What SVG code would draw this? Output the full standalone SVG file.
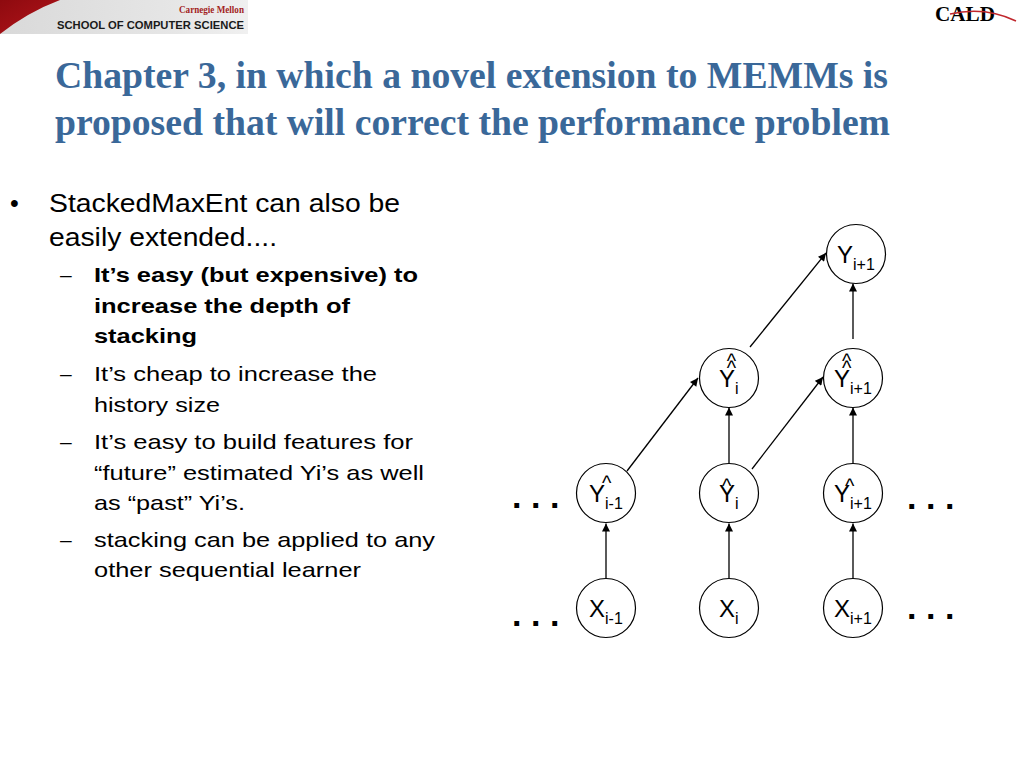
<svg xmlns="http://www.w3.org/2000/svg" width="1024" height="768" viewBox="0 0 1024 768">
  <defs>
    <linearGradient id="band" x1="0" y1="0" x2="1" y2="0">
      <stop offset="0" stop-color="#d9d9d9"/>
      <stop offset="0.7" stop-color="#e6e6e6"/>
      <stop offset="1" stop-color="#f0f0f0"/>
    </linearGradient>
    <linearGradient id="red" x1="0" y1="0" x2="1" y2="1">
      <stop offset="0" stop-color="#8e0a0f"/>
      <stop offset="1" stop-color="#b3151b"/>
    </linearGradient>
    <marker id="arr" viewBox="0 0 10 10" refX="10" refY="5" markerWidth="9" markerHeight="8" markerUnits="userSpaceOnUse" orient="auto">
      <path d="M0,0 L10,5 L0,10 Z" fill="#000"/>
    </marker>
    <style>
      .node circle { fill: #fff; stroke: #000; stroke-width: 1.2; }
      .lbl { font-family: "Liberation Sans", Arial, sans-serif; font-size: 24px; fill: #000; }
      .sub { font-size: 16px; }
      .hat { font-size: 20px; }
      .edge { stroke: #000; stroke-width: 1.3; fill: none; marker-end: url(#arr); }
      .title { font-family: "Liberation Serif", "Times New Roman", serif; font-size: 37px; font-weight: bold; fill: #3a6899; }
      .body { font-family: "Liberation Sans", Arial, sans-serif; fill: #000; }
      .l1 { font-size: 25px; }
      .l2 { font-size: 21px; }
      .dots { font-family: "Liberation Sans", Arial, sans-serif; font-size: 34px; font-weight: bold; fill: #000; letter-spacing: 9.5px; }
    </style>
  </defs>

  <rect x="0" y="0" width="1024" height="768" fill="#fff"/>

  <!-- Header left logo -->
  <g id="cmu-logo">
    <rect x="0" y="0" width="248" height="34" fill="url(#band)"/>
    <path d="M0,0 H60 Q28,12 0,34 Z" fill="url(#red)"/>
    <text x="244" y="12.5" text-anchor="end" font-family="Liberation Serif, serif" font-size="9.5" font-weight="bold" fill="#a31f24" textLength="65" lengthAdjust="spacingAndGlyphs">Carnegie Mellon</text>
    <text x="57" y="28.5" font-family="Liberation Sans, Arial, sans-serif" font-size="11" font-weight="bold" fill="#1a1a1a" textLength="187" lengthAdjust="spacingAndGlyphs">SCHOOL OF COMPUTER SCIENCE</text>
  </g>

  <!-- Header right logo -->
  <g id="cald-logo">
    <text x="935" y="21" font-family="Liberation Serif, serif" font-size="20" font-weight="bold" fill="#000" textLength="60" lengthAdjust="spacingAndGlyphs">CALD</text>
    <path d="M950,14 Q985,6 1016,21" stroke="#c0272d" stroke-width="1.4" fill="none"/>
  </g>

  <!-- Title -->
  <g id="title">
    <text class="title" x="55" y="88" textLength="833" lengthAdjust="spacingAndGlyphs">Chapter 3, in which a novel extension to MEMMs is</text>
    <text class="title" x="55" y="135" textLength="835" lengthAdjust="spacingAndGlyphs">proposed that will correct the performance problem</text>
  </g>

  <!-- Bullets -->
  <g id="bullets" class="body">
    <text class="l1" x="10" y="212">•</text>
    <text class="l1" x="49" y="212" textLength="351" lengthAdjust="spacingAndGlyphs">StackedMaxEnt can also be</text>
    <text class="l1" x="49" y="246" textLength="228" lengthAdjust="spacingAndGlyphs">easily extended....</text>

    <text class="l2" x="60" y="282">–</text>
    <text class="l2" x="94" y="282" font-weight="bold" textLength="324" lengthAdjust="spacingAndGlyphs">It’s easy (but expensive) to</text>
    <text class="l2" x="94" y="313" font-weight="bold" textLength="256" lengthAdjust="spacingAndGlyphs">increase the depth of</text>
    <text class="l2" x="94" y="343" font-weight="bold" textLength="103" lengthAdjust="spacingAndGlyphs">stacking</text>

    <text class="l2" x="60" y="381">–</text>
    <text class="l2" x="94" y="381" textLength="283" lengthAdjust="spacingAndGlyphs">It’s cheap to increase the</text>
    <text class="l2" x="94" y="412" textLength="126" lengthAdjust="spacingAndGlyphs">history size</text>

    <text class="l2" x="60" y="449">–</text>
    <text class="l2" x="94" y="449" textLength="319" lengthAdjust="spacingAndGlyphs">It’s easy to build features for</text>
    <text class="l2" x="94" y="480" textLength="330" lengthAdjust="spacingAndGlyphs">“future” estimated Yi’s as well</text>
    <text class="l2" x="94" y="510" textLength="151" lengthAdjust="spacingAndGlyphs">as “past” Yi’s.</text>

    <text class="l2" x="60" y="547">–</text>
    <text class="l2" x="94" y="547" textLength="341" lengthAdjust="spacingAndGlyphs">stacking can be applied to any</text>
    <text class="l2" x="94" y="577" textLength="267" lengthAdjust="spacingAndGlyphs">other sequential learner</text>
  </g>

  <!-- Connectors -->
  <g id="connectors">
    <line class="edge" x1="606" y1="578.5" x2="606" y2="523.5"/>
    <line class="edge" x1="729" y1="578.5" x2="729" y2="523.5"/>
    <line class="edge" x1="853" y1="578.5" x2="853" y2="523.5"/>
    <line class="edge" x1="729" y1="463.5" x2="729" y2="407.5"/>
    <line class="edge" x1="853" y1="463.5" x2="853" y2="407.5"/>
    <line class="edge" x1="853" y1="339" x2="853" y2="283.5"/>
    <line class="edge" x1="627" y1="471" x2="698" y2="378"/>
    <line class="edge" x1="752" y1="469" x2="823" y2="377"/>
    <line class="edge" x1="750" y1="347" x2="826" y2="253"/>
  </g>

  <!-- Nodes -->
  <g id="x-im1" class="node">
    <circle cx="606" cy="608" r="29.5"/>
    <text class="lbl" x="589" y="617">X<tspan class="sub" dy="7">i-1</tspan></text>
  </g>
  <g id="x-i" class="node">
    <circle cx="729" cy="608" r="29.5"/>
    <text class="lbl" x="719" y="617">X<tspan class="sub" dy="7">i</tspan></text>
  </g>
  <g id="x-ip1" class="node">
    <circle cx="853" cy="608" r="29.5"/>
    <text class="lbl" x="834" y="617">X<tspan class="sub" dy="7">i+1</tspan></text>
  </g>

  <g id="yhat-im1" class="node">
    <circle cx="606" cy="493" r="29.5"/>
    <text class="lbl" x="589" y="502">Y<tspan class="hat" dx="-3" dy="-12">^</tspan><tspan class="sub" dx="-6.4" dy="19">i-1</tspan></text>
  </g>
  <g id="yhat-i" class="node">
    <circle cx="729" cy="493" r="29.5"/>
    <text class="lbl" x="719" y="502">Y<tspan class="hat" dx="-13" dy="-9">^</tspan><tspan class="sub" dx="3.6" dy="16">i</tspan></text>
  </g>
  <g id="yhat-ip1" class="node">
    <circle cx="853" cy="493" r="29.5"/>
    <text class="lbl" x="834" y="502">Y<tspan class="hat" dx="-5" dy="-9">^</tspan><tspan class="sub" dx="-4.4" dy="16">i+1</tspan></text>
  </g>

  <g id="yhathat-i" class="node">
    <circle cx="729" cy="378" r="29.5"/>
    <text class="lbl" x="719" y="387">Y<tspan class="hat" dx="-8.2" dy="-19">^</tspan><tspan class="hat" dx="-9.4" dy="7">^</tspan><tspan class="sub" dx="-1.2" dy="19">i</tspan></text>
  </g>
  <g id="yhathat-ip1" class="node">
    <circle cx="853" cy="378" r="29.5"/>
    <text class="lbl" x="834" y="387">Y<tspan class="hat" dx="-8.1" dy="-19">^</tspan><tspan class="hat" dx="-9.4" dy="7">^</tspan><tspan class="sub" dx="-1.3" dy="19">i+1</tspan></text>
  </g>

  <g id="y-ip1" class="node">
    <circle cx="856" cy="254" r="29.5"/>
    <text class="lbl" x="837" y="263">Y<tspan class="sub" dy="7">i+1</tspan></text>
  </g>

  <!-- Ellipses -->
  <g id="ellipses">
    <text class="dots" x="512" y="508">...</text>
    <text class="dots" x="907" y="509">...</text>
    <text class="dots" x="512" y="626">...</text>
    <text class="dots" x="907" y="619">...</text>
  </g>
</svg>
